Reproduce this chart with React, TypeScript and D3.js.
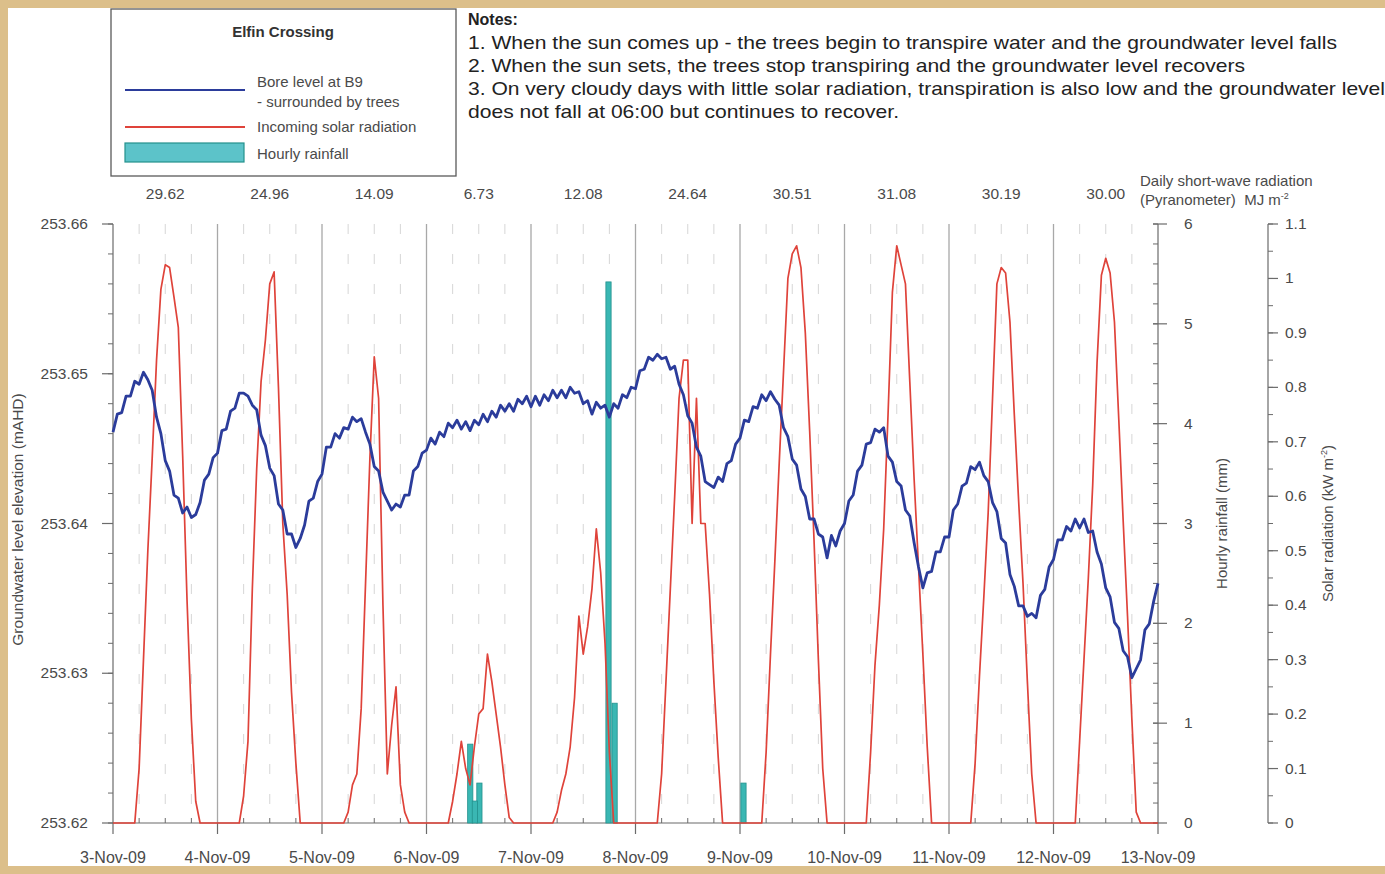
import React, { useEffect, useRef } from 'react';
import * as d3 from 'd3';

// hourly readings run from 3-Nov-09 00:00 to 13-Nov-09 00:00
const startTime = Date.UTC(2009, 10, 3);
const hourMs = 60 * 60 * 1000;

const dayLabels = [
    '3-Nov-09', '4-Nov-09', '5-Nov-09', '6-Nov-09', '7-Nov-09', '8-Nov-09',
    '9-Nov-09', '10-Nov-09', '11-Nov-09', '12-Nov-09', '13-Nov-09',
];

// daily short-wave radiation from the pyranometer (MJ m-2)
const dailyRadiation = [29.62, 24.96, 14.09, 6.73, 12.08, 24.64, 30.51, 31.08, 30.19, 30.0];

// bore level at B9 (mAHD), one value per hour
const boreLevel = [
    253.6461, 253.6473, 253.6474, 253.6485, 253.6485, 253.6495, 253.6493, 253.6501, 253.6496, 253.6489, 253.6471, 253.646,
    253.6442, 253.6435, 253.6419, 253.6417, 253.6407, 253.6411, 253.6404, 253.6406, 253.6414, 253.6429, 253.6433, 253.6444,
    253.6447, 253.6462, 253.6463, 253.6475, 253.6477, 253.6487, 253.6487, 253.6485, 253.6479, 253.6476, 253.6459, 253.6452,
    253.6437, 253.6432, 253.6413, 253.6409, 253.6393, 253.6393, 253.6384, 253.639, 253.6399, 253.6415, 253.6417, 253.6428,
    253.6433, 253.6451, 253.6451, 253.646, 253.6457, 253.6464, 253.6463, 253.6471, 253.6468, 253.647, 253.6461, 253.6453,
    253.6438, 253.6435, 253.6421, 253.6415, 253.6409, 253.6413, 253.6411, 253.6419, 253.6419, 253.6435, 253.6438, 253.6447,
    253.6449, 253.6457, 253.6453, 253.6461, 253.6458, 253.6467, 253.6464, 253.6469, 253.6463, 253.6468, 253.6462, 253.6469,
    253.6466, 253.6473, 253.6468, 253.6475, 253.6471, 253.6479, 253.6475, 253.648, 253.6475, 253.6483, 253.648, 253.6485,
    253.6478, 253.6485, 253.6479, 253.6486, 253.6482, 253.6489, 253.6484, 253.6489, 253.6484, 253.6491, 253.6487, 253.6488,
    253.648, 253.6482, 253.6473, 253.6481, 253.6477, 253.6479, 253.6471, 253.648, 253.6477, 253.6486, 253.6484, 253.6491,
    253.649, 253.6502, 253.6503, 253.6511, 253.6509, 253.6513, 253.651, 253.6511, 253.6503, 253.6505, 253.6493, 253.6486,
    253.6472, 253.6467, 253.6451, 253.6445, 253.6428, 253.6426, 253.6424, 253.6431, 253.6428, 253.644, 253.6442, 253.6453,
    253.6457, 253.6469, 253.6468, 253.6478, 253.6477, 253.6486, 253.6482, 253.6488, 253.6483, 253.6479, 253.6464, 253.6458,
    253.6443, 253.6439, 253.6423, 253.6418, 253.6403, 253.6403, 253.6393, 253.6391, 253.6377, 253.6392, 253.6385, 253.6395,
    253.64, 253.6415, 253.6419, 253.6435, 253.6439, 253.6453, 253.6454, 253.6463, 253.6461, 253.6464, 253.6445, 253.6441,
    253.6428, 253.6425, 253.6409, 253.6405, 253.6387, 253.6371, 253.6357, 253.6367, 253.6368, 253.6381, 253.6381, 253.6391,
    253.6391, 253.6409, 253.6413, 253.6425, 253.6427, 253.6438, 253.6436, 253.6441, 253.6432, 253.6428, 253.6414, 253.6408,
    253.639, 253.6387, 253.6366, 253.6358, 253.6345, 253.6345, 253.6338, 253.634, 253.6337, 253.6352, 253.6356, 253.6371,
    253.6376, 253.6389, 253.6389, 253.6398, 253.6395, 253.6403, 253.6397, 253.6403, 253.6394, 253.6395, 253.6381, 253.6373,
    253.6357, 253.6351, 253.6334, 253.633, 253.6315, 253.6311, 253.6297, 253.6303, 253.6309, 253.6329, 253.6333, 253.6348,
    253.636,
];

// incoming solar radiation (kW m-2), one value per hour, one row per day
const solarRadiation = [
    0, 0, 0, 0, 0, 0, 0.1, 0.3, 0.5, 0.67, 0.85, 0.98, 1.025, 1.02, 0.966, 0.91, 0.675, 0.41, 0.19, 0.04, 0, 0, 0, 0,
    0, 0, 0, 0, 0, 0, 0.05, 0.15, 0.43, 0.65, 0.81, 0.887, 0.99, 1.012, 0.8, 0.55, 0.42, 0.24, 0.11, 0, 0, 0, 0, 0,
    0, 0, 0, 0, 0, 0, 0.02, 0.07, 0.09, 0.21, 0.44, 0.67, 0.856, 0.78, 0.4, 0.09, 0.18, 0.25, 0.07, 0.02, 0, 0, 0, 0,
    0, 0, 0, 0, 0, 0, 0.04, 0.09, 0.15, 0.1, 0.07, 0.14, 0.2, 0.21, 0.31, 0.26, 0.2, 0.14, 0.07, 0.01, 0, 0, 0, 0,
    0, 0, 0, 0, 0, 0, 0.02, 0.06, 0.09, 0.14, 0.23, 0.38, 0.31, 0.36, 0.43, 0.54, 0.46, 0.33, 0.13, 0, 0, 0, 0, 0,
    0, 0, 0, 0, 0, 0, 0.09, 0.26, 0.43, 0.6, 0.78, 0.85, 0.85, 0.55, 0.78, 0.55, 0.55, 0.42, 0.26, 0.12, 0, 0, 0, 0,
    0, 0, 0, 0, 0, 0, 0.13, 0.31, 0.48, 0.66, 0.83, 1.0, 1.045, 1.06, 1.02, 0.9, 0.72, 0.52, 0.3, 0.1, 0, 0, 0, 0,
    0, 0, 0, 0, 0, 0, 0.13, 0.29, 0.4, 0.54, 0.75, 0.975, 1.06, 1.025, 0.99, 0.81, 0.63, 0.47, 0.31, 0.14, 0, 0, 0, 0,
    0, 0, 0, 0, 0, 0, 0.11, 0.27, 0.415, 0.57, 0.78, 0.99, 1.02, 1.01, 0.92, 0.75, 0.59, 0.44, 0.26, 0.09, 0, 0, 0, 0,
    0, 0, 0, 0, 0, 0, 0.15, 0.3, 0.45, 0.62, 0.845, 1.006, 1.037, 1.01, 0.92, 0.74, 0.555, 0.38, 0.19, 0.02, 0, 0, 0, 0,
    0,
];

// hourly rainfall: hours after 3-Nov 00:00 and depth (mm)
const rainHour = [81.45, 83.55, 82.5, 113.2, 114.6, 144.2];
const rainMm = [0.79, 0.4, 0.22, 5.42, 1.2, 0.4];

const legendLabels = ['Bore level at B9', '- surrounded by trees', 'Incoming solar radiation', 'Hourly rainfall'];

const notes = [
    '1. When the sun comes up - the trees begin to transpire water and the groundwater level falls',
    '2. When the sun sets, the trees stop transpiring and the groundwater level recovers',
    '3. On very cloudy days with little solar radiation, transpiration is also low and the groundwater level',
    'does not fall at 06:00 but continues to recover.',
];
const noteWidths = [869, 777, 917, 431];

const FONT = '"Liberation Sans", Arial, sans-serif';
const blue = '#2b3c9b';
const red = '#df433a';
const teal = '#3ab7b3';
const tealEdge = '#23918d';
const axisColor = '#6b6b6b';
const textColor = '#4a4a4a';

const App: React.FC = () => {
    const ref = useRef<SVGSVGElement>(null);
    const width = 1385;
    const height = 874;
    const plot = { left: 113, right: 1158, top: 224, bottom: 823 };

    useEffect(() => {
        const svg = d3.select(ref.current);
        svg.selectAll('*').remove();
        svg.attr('width', width).attr('height', height).style('font-family', FONT);

        // tan frame and white page
        svg.append('rect').attr('width', width).attr('height', height).attr('fill', '#dcbf8a');
        svg.append('rect').attr('x', 8).attr('y', 8).attr('width', width - 8).attr('height', 858).attr('fill', '#ffffff');

        const hourDate = (h: number) => new Date(startTime + h * hourMs);

        const xScale = d3
            .scaleUtc()
            .domain([hourDate(0), hourDate(240)])
            .range([plot.left, plot.right]);
        const yLevel = d3.scaleLinear().domain([253.62, 253.66]).range([plot.bottom, plot.top]);
        const yRain = d3.scaleLinear().domain([0, 6]).range([plot.bottom, plot.top]);
        const ySolar = d3.scaleLinear().domain([0, 1.1]).range([plot.bottom, plot.top]);

        const days = d3.utcDay.range(hourDate(0), hourDate(241));
        const sixHourly = d3.utcHour
            .every(6)!
            .range(hourDate(0), hourDate(240))
            .filter((d) => d.getUTCHours() !== 0);

        // dashed 6-hourly gridlines
        svg.append('g')
            .selectAll('line')
            .data(sixHourly)
            .join('line')
            .attr('x1', (d) => xScale(d))
            .attr('x2', (d) => xScale(d))
            .attr('y1', plot.top)
            .attr('y2', plot.bottom)
            .attr('stroke', '#d6d6d6')
            .attr('stroke-width', 1)
            .attr('stroke-dasharray', '10,20');

        // solid midnight gridlines
        svg.append('g')
            .selectAll('line')
            .data(days.slice(1, -1))
            .join('line')
            .attr('x1', (d) => xScale(d))
            .attr('x2', (d) => xScale(d))
            .attr('y1', plot.top)
            .attr('y2', plot.bottom)
            .attr('stroke', '#a8a8a8')
            .attr('stroke-width', 1.3);

        // x axis
        const xAxis = svg.append('g');
        xAxis.append('line')
            .attr('x1', plot.left).attr('x2', plot.right)
            .attr('y1', plot.bottom).attr('y2', plot.bottom)
            .attr('stroke', axisColor).attr('stroke-width', 1.2);
        xAxis.selectAll('line.day')
            .data(days)
            .join('line')
            .attr('class', 'day')
            .attr('x1', (d) => xScale(d)).attr('x2', (d) => xScale(d))
            .attr('y1', plot.bottom).attr('y2', plot.bottom + 11)
            .attr('stroke', axisColor).attr('stroke-width', 1.2);
        xAxis.selectAll('line.six')
            .data(sixHourly)
            .join('line')
            .attr('class', 'six')
            .attr('x1', (d) => xScale(d)).attr('x2', (d) => xScale(d))
            .attr('y1', plot.bottom - 5).attr('y2', plot.bottom)
            .attr('stroke', axisColor);
        xAxis.selectAll('text')
            .data(days)
            .join('text')
            .attr('x', (d) => xScale(d))
            .attr('y', 863)
            .attr('text-anchor', 'middle')
            .style('font-size', '16px')
            .attr('fill', textColor)
            .text((_, i) => dayLabels[i]);

        // daily radiation totals above each day
        svg.append('g')
            .selectAll('text')
            .data(dailyRadiation)
            .join('text')
            .attr('x', (_, i) => (xScale(days[i]) + xScale(days[i + 1])) / 2)
            .attr('y', 199)
            .attr('text-anchor', 'middle')
            .style('font-size', '15.5px')
            .attr('fill', textColor)
            .text((d) => d3.format('.2f')(d));

        svg.append('text')
            .attr('x', 1140)
            .attr('y', 186)
            .style('font-size', '15px')
            .attr('fill', textColor)
            .text('Daily short-wave radiation');
        const headerLine2 = svg.append('text')
            .attr('x', 1140)
            .attr('y', 205)
            .style('font-size', '15px')
            .attr('fill', textColor);
        headerLine2.append('tspan').text('(Pyranometer)\u00a0\u00a0MJ m');
        headerLine2.append('tspan').attr('dy', -6).style('font-size', '9px').text('-2');

        // left axis: groundwater level
        const leftAxis = svg.append('g');
        leftAxis.append('line')
            .attr('x1', plot.left).attr('x2', plot.left)
            .attr('y1', plot.top).attr('y2', plot.bottom)
            .attr('stroke', axisColor).attr('stroke-width', 1.2);
        leftAxis.selectAll('line.minor')
            .data(yLevel.ticks(20))
            .join('line')
            .attr('class', 'minor')
            .attr('x1', plot.left - 5).attr('x2', plot.left)
            .attr('y1', (d) => yLevel(d)).attr('y2', (d) => yLevel(d))
            .attr('stroke', axisColor);
        leftAxis.selectAll('line.major')
            .data(yLevel.ticks(4))
            .join('line')
            .attr('class', 'major')
            .attr('x1', plot.left - 11).attr('x2', plot.left)
            .attr('y1', (d) => yLevel(d)).attr('y2', (d) => yLevel(d))
            .attr('stroke', axisColor).attr('stroke-width', 1.2);
        leftAxis.selectAll('text')
            .data(yLevel.ticks(4))
            .join('text')
            .attr('x', 88)
            .attr('y', (d) => yLevel(d) + 5)
            .attr('text-anchor', 'end')
            .style('font-size', '15.5px')
            .attr('fill', textColor)
            .text((d) => d3.format('.2f')(d));
        svg.append('text')
            .attr('transform', `translate(23,${(plot.top + plot.bottom) / 2 - 4}) rotate(-90)`)
            .attr('text-anchor', 'middle')
            .style('font-size', '15.5px')
            .attr('fill', textColor)
            .text('Groundwater level elevation (mAHD)');

        // right axis: hourly rainfall
        const rainAxis = svg.append('g');
        rainAxis.append('line')
            .attr('x1', plot.right).attr('x2', plot.right)
            .attr('y1', plot.top).attr('y2', plot.bottom)
            .attr('stroke', axisColor).attr('stroke-width', 1.2);
        rainAxis.selectAll('line.minor')
            .data(yRain.ticks(30))
            .join('line')
            .attr('class', 'minor')
            .attr('x1', plot.right - 5).attr('x2', plot.right)
            .attr('y1', (d) => yRain(d)).attr('y2', (d) => yRain(d))
            .attr('stroke', axisColor);
        rainAxis.selectAll('line.major')
            .data(yRain.ticks(6))
            .join('line')
            .attr('class', 'major')
            .attr('x1', plot.right - 5).attr('x2', plot.right + 9)
            .attr('y1', (d) => yRain(d)).attr('y2', (d) => yRain(d))
            .attr('stroke', axisColor).attr('stroke-width', 1.2);
        rainAxis.selectAll('text')
            .data(yRain.ticks(6))
            .join('text')
            .attr('x', plot.right + 26)
            .attr('y', (d) => yRain(d) + 5)
            .style('font-size', '15.5px')
            .attr('fill', textColor)
            .text((d) => d3.format('d')(d));
        svg.append('text')
            .attr('transform', `translate(1227,${(plot.top + plot.bottom) / 2}) rotate(-90)`)
            .attr('text-anchor', 'middle')
            .style('font-size', '15px')
            .attr('fill', textColor)
            .text('Hourly rainfall (mm)');

        // far right axis: solar radiation
        const solarX = 1268;
        const solarAxis = svg.append('g');
        solarAxis.append('line')
            .attr('x1', solarX).attr('x2', solarX)
            .attr('y1', plot.top).attr('y2', plot.bottom)
            .attr('stroke', axisColor).attr('stroke-width', 1.2);
        solarAxis.selectAll('line.minor')
            .data(ySolar.ticks(22))
            .join('line')
            .attr('class', 'minor')
            .attr('x1', solarX).attr('x2', solarX + 5)
            .attr('y1', (d) => ySolar(d)).attr('y2', (d) => ySolar(d))
            .attr('stroke', axisColor);
        solarAxis.selectAll('line.major')
            .data(ySolar.ticks(11))
            .join('line')
            .attr('class', 'major')
            .attr('x1', solarX).attr('x2', solarX + 10)
            .attr('y1', (d) => ySolar(d)).attr('y2', (d) => ySolar(d))
            .attr('stroke', axisColor).attr('stroke-width', 1.2);
        solarAxis.selectAll('text')
            .data(ySolar.ticks(11))
            .join('text')
            .attr('x', solarX + 17)
            .attr('y', (d) => ySolar(d) + 5)
            .style('font-size', '15.5px')
            .attr('fill', textColor)
            .text((d) => String(+d.toFixed(2)));
        const solarTitle = svg.append('text')
            .attr('transform', `translate(1333,${(plot.top + plot.bottom) / 2}) rotate(-90)`)
            .attr('text-anchor', 'middle')
            .style('font-size', '15px')
            .attr('fill', textColor);
        solarTitle.append('tspan').text('Solar radiation (kW m');
        solarTitle.append('tspan').attr('dy', -6).style('font-size', '9px').text('-2');
        solarTitle.append('tspan').attr('dy', 6).text(')');

        // hourly rainfall bars
        svg.append('g')
            .selectAll('rect')
            .data(rainHour)
            .join('rect')
            .attr('x', (d) => xScale(hourDate(d)))
            .attr('width', (d) => xScale(hourDate(d + 1.2)) - xScale(hourDate(d)))
            .attr('y', (_, i) => yRain(rainMm[i]))
            .attr('height', (_, i) => plot.bottom - yRain(rainMm[i]))
            .attr('fill', teal)
            .attr('stroke', tealEdge)
            .attr('stroke-width', 0.8);

        // solar radiation line
        const solarLine = d3
            .line<number>()
            .x((_, i) => xScale(hourDate(i)))
            .y((d) => ySolar(d));
        svg.append('path')
            .datum(solarRadiation)
            .attr('d', solarLine)
            .attr('fill', 'none')
            .attr('stroke', red)
            .attr('stroke-width', 1.7)
            .attr('stroke-linejoin', 'round');

        // groundwater level line
        const levelLine = d3
            .line<number>()
            .x((_, i) => xScale(hourDate(i)))
            .y((d) => yLevel(d));
        svg.append('path')
            .datum(boreLevel)
            .attr('d', levelLine)
            .attr('fill', 'none')
            .attr('stroke', blue)
            .attr('stroke-width', 2.8)
            .attr('stroke-linejoin', 'round');

        // legend box
        const legend = svg.append('g');
        legend.append('rect')
            .attr('x', 111).attr('y', 9)
            .attr('width', 345).attr('height', 167)
            .attr('fill', '#ffffff')
            .attr('stroke', '#5a5a5a')
            .attr('stroke-width', 1.3);
        legend.append('text')
            .attr('x', 283).attr('y', 37)
            .attr('text-anchor', 'middle')
            .style('font-size', '15px')
            .style('font-weight', 'bold')
            .attr('fill', '#333')
            .text('Elfin Crossing');
        legend.append('line')
            .attr('x1', 125).attr('x2', 245).attr('y1', 90).attr('y2', 90)
            .attr('stroke', blue).attr('stroke-width', 2.2);
        legend.append('line')
            .attr('x1', 125).attr('x2', 245).attr('y1', 127).attr('y2', 127)
            .attr('stroke', red).attr('stroke-width', 2);
        legend.append('rect')
            .attr('x', 125).attr('y', 143).attr('width', 119).attr('height', 19)
            .attr('fill', '#5cc3c9').attr('stroke', tealEdge).attr('stroke-width', 1.2);
        legend.selectAll('text.item')
            .data(legendLabels)
            .join('text')
            .attr('class', 'item')
            .attr('x', 257)
            .attr('y', (_, i) => [87, 107, 132, 159][i])
            .style('font-size', '15px')
            .attr('fill', textColor)
            .text((d) => d);

        // notes
        svg.append('text')
            .attr('x', 468).attr('y', 25)
            .style('font-size', '16px')
            .style('font-weight', 'bold')
            .attr('fill', '#222')
            .text('Notes:');
        svg.append('g')
            .selectAll('text')
            .data(notes)
            .join('text')
            .attr('x', 468)
            .attr('y', (_, i) => 49 + i * 23)
            .attr('textLength', (_, i) => noteWidths[i])
            .attr('lengthAdjust', 'spacingAndGlyphs')
            .style('font-size', '18.5px')
            .attr('fill', '#222')
            .text((d) => d);
    }, []);

    return (
        <div style={{ position: 'absolute', left: 0, top: 0 }}>
            <svg ref={ref}></svg>
        </div>
    );
};

export default App;
